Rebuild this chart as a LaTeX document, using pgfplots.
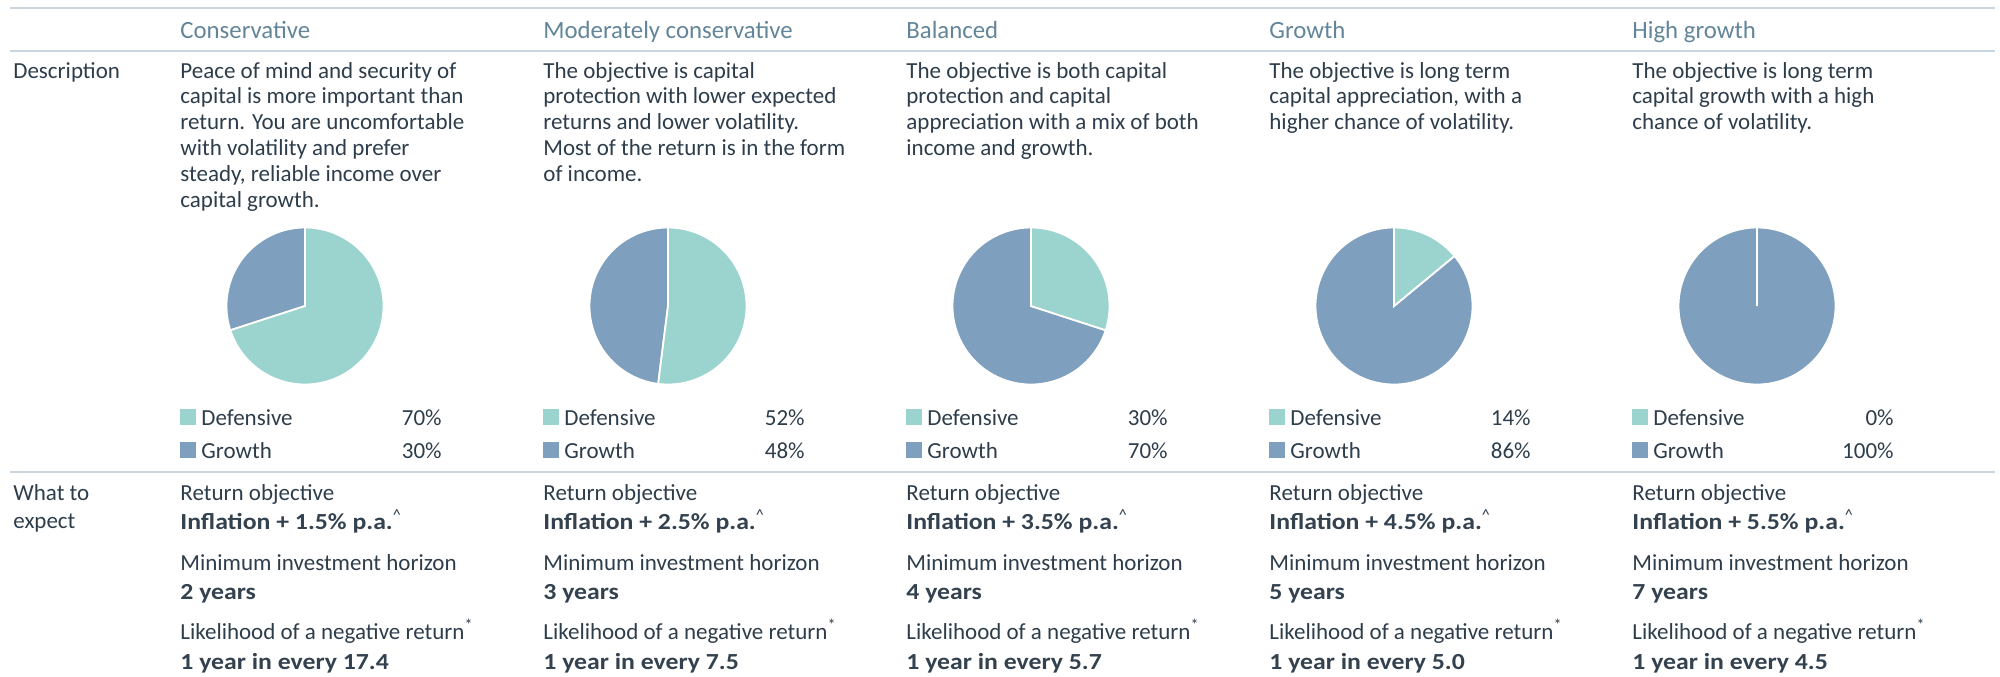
\documentclass[border=0pt]{standalone}
\usepackage{pgfplots}
\pgfplotsset{compat=1.18}
\usepackage{fontspec}
\setmainfont{Carlito}[BoldFeatures={FakeStretch=1.12}]
\definecolor{defc}{HTML}{9BD3CF}
\definecolor{groc}{HTML}{7E9FBD}
\definecolor{headc}{HTML}{628599}
\definecolor{txtc}{HTML}{2E3D4B}
\definecolor{boldc}{HTML}{34424F}
\definecolor{rulec}{HTML}{C8D6E2}
% pie: centre x (px), centre y (px), defensive share (%)
\newcommand\pie[3]{%
\begin{axis}[at={(#1*0.5pt,-#2*0.5pt)}, anchor=center, width=78.5pt, height=78.5pt,
  scale only axis, hide axis, xmin=-1, xmax=1, ymin=-1, ymax=1, clip=false]
\addplot[fill=groc, draw=white, line width=0.9pt, domain=-270:90-3.6*#3, samples=150]
  ({cos(x)},{sin(x)}) -- (axis cs:0,0) -- cycle;
\ifnum#3>0
\addplot[fill=defc, draw=white, line width=0.9pt, domain=90-3.6*#3:90, samples=150]
  ({cos(x)},{sin(x)}) -- (axis cs:0,0) -- cycle;
\fi
\end{axis}}
\newcommand\bt[1]{\textcolor{boldc}{\bfseries #1}}
\begin{document}
\begin{tikzpicture}
\path[use as bounding box] (0,0) rectangle (1000pt,-338pt);
\pie{305}{306}{70}
\pie{668}{306}{52}
\pie{1031}{306}{30}
\pie{1394}{306}{14}
\pie{1757}{306}{0}
\begin{scope}[x=0.5pt,y=-0.5pt, every node/.style={inner sep=0pt, anchor=base west, text=txtc, font=\fontsize{11.5}{13}\selectfont}]
\foreach \yy in {8,51,472} \draw[rulec, line width=1pt] (10,\yy) -- (1995,\yy);
\node at (13,78) {Description};
\node at (13,500) {What to};
\node at (13,528) {expect};
\foreach \cx/\name/\d/\g/\ret/\yrs/\neg in {180/Conservative/70/30/1.5/2/17.4,
   543/Moderately conservative/52/48/2.5/3/7.5,
   906/Balanced/30/70/3.5/4/5.7,
   1269/Growth/14/86/4.5/5/5.0,
   1632/High growth/0/100/5.5/7/4.5}{
  \node[text=headc, font=\fontsize{12.4}{14}\selectfont] at (\cx,38) {\name};
  \fill[defc] (\cx,409) rectangle ++(16,16);
  \fill[groc] (\cx,442) rectangle ++(16,16);
  \node at (\cx+21,425) {Defensive};
  \node at (\cx+21,458) {Growth};
  \node[anchor=base east] at (\cx+262,425) {\d\%};
  \node[anchor=base east] at (\cx+262,458) {\g\%};
  \node at (\cx,500) {Return objective};
  \node at (\cx,529) {\bt{Inflation + \ret\% p.a.}\textsuperscript{\textasciicircum}};
  \node at (\cx,570) {Minimum investment horizon};
  \node at (\cx,599) {\bt{\yrs\ years}};
  \node at (\cx,639) {Likelihood of a negative return\textsuperscript{*}};
  \node at (\cx,669) {\bt{1 year in every \neg}};
}
\foreach \t [count=\i from 0] in {Peace of mind and security of, capital is more important than, return. You are uncomfortable, with volatility and prefer, {steady, reliable income over}, capital growth.}
  \node at (180,78+25.8*\i) {\t};
\foreach \t [count=\i from 0] in {The objective is capital, protection with lower expected, returns and lower volatility., Most of the return is in the form, of income.}
  \node at (543,78+25.8*\i) {\t};
\foreach \t [count=\i from 0] in {The objective is both capital, protection and capital, appreciation with a mix of both, income and growth.}
  \node at (906,78+25.8*\i) {\t};
\foreach \t [count=\i from 0] in {The objective is long term, {capital appreciation, with a}, higher chance of volatility.}
  \node at (1269,78+25.8*\i) {\t};
\foreach \t [count=\i from 0] in {The objective is long term, capital growth with a high, chance of volatility.}
  \node at (1632,78+25.8*\i) {\t};
\end{scope}
\end{tikzpicture}
\end{document}
